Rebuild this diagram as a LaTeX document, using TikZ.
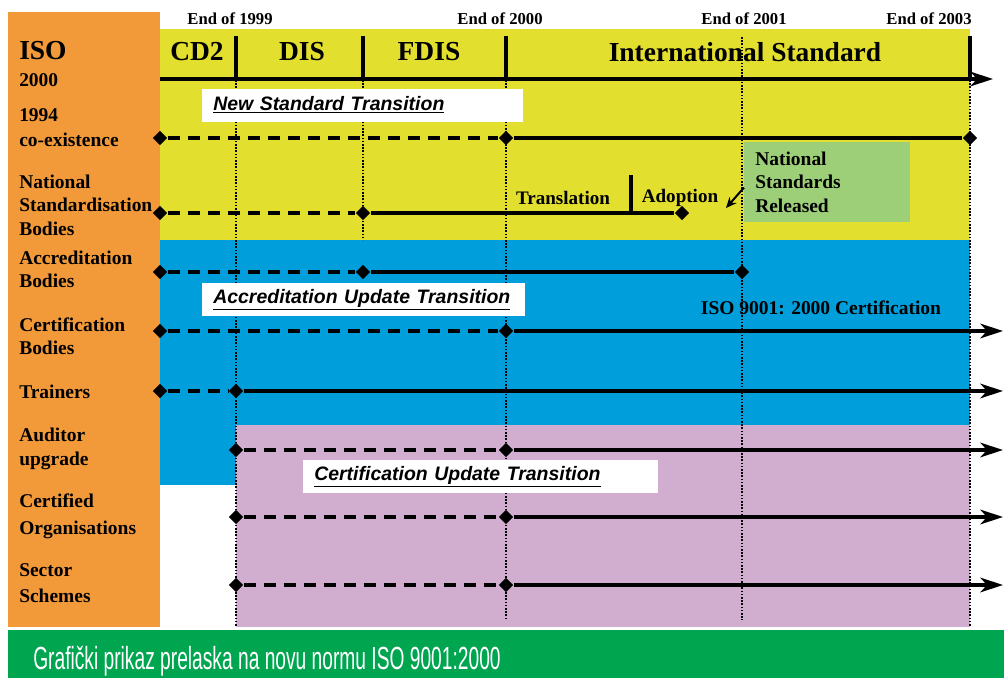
\documentclass[tikz,border=0pt]{standalone}
\usepackage{fontspec}
\setmainfont{Liberation Serif}
\newfontfamily\trfont{Liberation Sans}
\newfontfamily\capfont[FakeStretch=0.6]{Liberation Sans}
\usepackage{tikz}
\usetikzlibrary{shapes.geometric,arrows.meta}

\definecolor{isoorange}{HTML}{F2993A}
\definecolor{isoyellow}{HTML}{E3DF2E}
\definecolor{isoblue}{HTML}{009EDB}
\definecolor{isopink}{HTML}{D1AECF}
\definecolor{isogreen}{HTML}{00A550}
\definecolor{natgreen}{HTML}{9DCF78}

\begin{document}
\begin{tikzpicture}[x=.75pt,y=-.75pt]
      \tikzstyle{every node}=[inner sep=0,font=\bfseries\fontsize{14.6}{17.6}\selectfont]
      \tikzstyle{milestone}=[diamond,fill=black,minimum width=11pt,minimum height=11pt]
      \tikzstyle{plan}=[line width=2.3pt,dash pattern=on 9pt off 6pt]
      \tikzstyle{live}=[line width=2.3pt]
      \tikzstyle{ahead}=[-{Stealth[length=17pt,width=11pt,inset=5pt]}]
      \tikzstyle{grid}=[line width=1.5pt,dash pattern=on 1.2pt off 1.2pt]
      \tikzstyle{year}=[font=\bfseries\fontsize{12.5}{14}\selectfont]
      \tikzstyle{phase}=[font=\bfseries\fontsize{20.6}{24}\selectfont]
      \tikzstyle{row}=[anchor=west,align=left]
      \tikzstyle{trans}=[fill=white,anchor=west,inner xsep=8.25pt,minimum height=24.75pt,
        align=left,font=\trfont\bfseries\itshape\fontsize{14.6}{17}\selectfont]
      \useasboundingbox (0,0) rectangle (1004,678);
      % 
      \fill[isoorange] (8,12) rectangle (160,627);
      \fill[isoyellow] (160,29) rectangle (970,240);
      \fill[isoblue] (160,240) rectangle (970,425);
      \fill[isoblue] (160,425) rectangle (236,485);
      \fill[isopink] (236,425) rectangle (970,627);
      \fill[isogreen] (8,630) rectangle (1004,678);
      % 
      \foreach \x in {236,363,506,970} \draw[live] (\x,36) -- (\x,80);
      \foreach \x/\t/\b in {236/80/627,363/80/240,506/80/620,742/37/620,970/80/627}
        \draw[grid] (\x,\t) -- (\x,\b);
      \coordinate (tl0) at (160,79);
      \coordinate (tl1) at (993,79);
      \draw[live,ahead] (tl0) -- (tl1);
      % 
      \node[year] (y99) at (230,19) {End of 1999};
      \node[year] (y00) at (500,19) {End of 2000};
      \node[year] (y01) at (744,19) {End of 2001};
      \node[year] (y03) at (929,19) {End of 2003};
      \node[phase] (cd2) at (197,52) {CD2};
      \node[phase] (dis) at (302,52) {DIS};
      \node[phase] (fdis) at (429,52) {FDIS};
      \node[phase] (intl) at (745,52) {International Standard};
      % 
      \node[phase,anchor=west] (iso) at (19,51) {ISO};
      \node[row] (y2000) at (19,80) {2000};
      \node[row,font=\bfseries\fontsize{14.6}{18.8}\selectfont] (coex) at (19,127.5) {1994\\co-existence};
      \node[row] (nsb) at (19,205) {National\\Standardisation\\Bodies};
      \node[row,font=\bfseries\fontsize{14.6}{17.3}\selectfont] (accb) at (19,269.5) {Accreditation\\Bodies};
      \node[row,font=\bfseries\fontsize{14.6}{17.3}\selectfont] (certb) at (19,336.5) {Certification\\Bodies};
      \node[row] (train) at (19,392) {Trainers};
      \node[row,font=\bfseries\fontsize{14.6}{18}\selectfont] (audit) at (19,449) {Auditor\\upgrade};
      \node[row,font=\bfseries\fontsize{14.6}{20}\selectfont] (corg) at (19,516) {Certified\\Organisations};
      \node[row,font=\bfseries\fontsize{14.6}{19.5}\selectfont] (sect) at (19,583) {Sector\\Schemes};
      % 
      \node[trans,text width=224.25pt] (nst) at (202,105) {\underline{New Standard Transition}};
      \node[trans,text width=225.75pt] (aut) at (202,299.5) {\underline{Accreditation Update Transition}};
      \node[trans,text width=249.75pt] (cut) at (303,476.5) {\underline{Certification Update Transition}};
      \node[fill=natgreen,anchor=north west,minimum width=124.5pt,minimum height=60pt,
        text width=108pt,inner xsep=8.25pt,align=left] (nsr) at (744,142) {National\\Standards\\Released};
      % 
      \node[milestone] (co0) at (160,138) {};
      \node[milestone] (co1) at (506,138) {};
      \node[milestone] (co2) at (970,138) {};
      \node[milestone] (nb0) at (160,213) {};
      \node[milestone] (nb1) at (363,213) {};
      \node[milestone] (nb2) at (682,213) {};
      \node[milestone] (ab0) at (160,272) {};
      \node[milestone] (ab1) at (363,272) {};
      \node[milestone] (ab2) at (742,272) {};
      \path
      (co0) edge [plan] (co1)
      (co1) edge [live] (co2)
      (nb0) edge [plan] (nb1)
      (nb1) edge [live] (nb2)
      (ab0) edge [plan] (ab1)
      (ab1) edge [live] (ab2);
      \draw[live] (631,175) -- (631,213);
      \node[font=\bfseries\fontsize{14.3}{17}\selectfont] (transl) at (563,198) {Translation};
      \node[font=\bfseries\fontsize{14.3}{17}\selectfont] (adopt) at (680,198) {Adoption};
      \coordinate (rel) at (726,208);
      \draw[line width=1.5pt,-{Stealth[length=8pt,width=7pt]}] ([yshift=-4pt]nsr.west) -- (rel);
      % 
      \foreach \n/\y/\a/\b in {cb/331/160/506,tr/391/160/236,au/450/236/506,or/517/236/506,se/585/236/506} {
        \node[milestone] (\n0) at (\a,\y) {};
        \node[milestone] (\n1) at (\b,\y) {};
        \coordinate (\n2) at (1003,\y);
        \draw[plan] (\n0) -- (\n1);
        \draw[live,ahead] (\n1) -- (\n2);
      }
      \node (cert) at (821,308) {ISO 9001: 2000 Certification};
      % 
      \node[anchor=base west,text=white,font=\capfont\fontsize{24}{28}\selectfont] (caption) at (33,669)
        {Grafički prikaz prelaska na novu normu ISO 9001:2000};
    \end{tikzpicture}
\end{document}
